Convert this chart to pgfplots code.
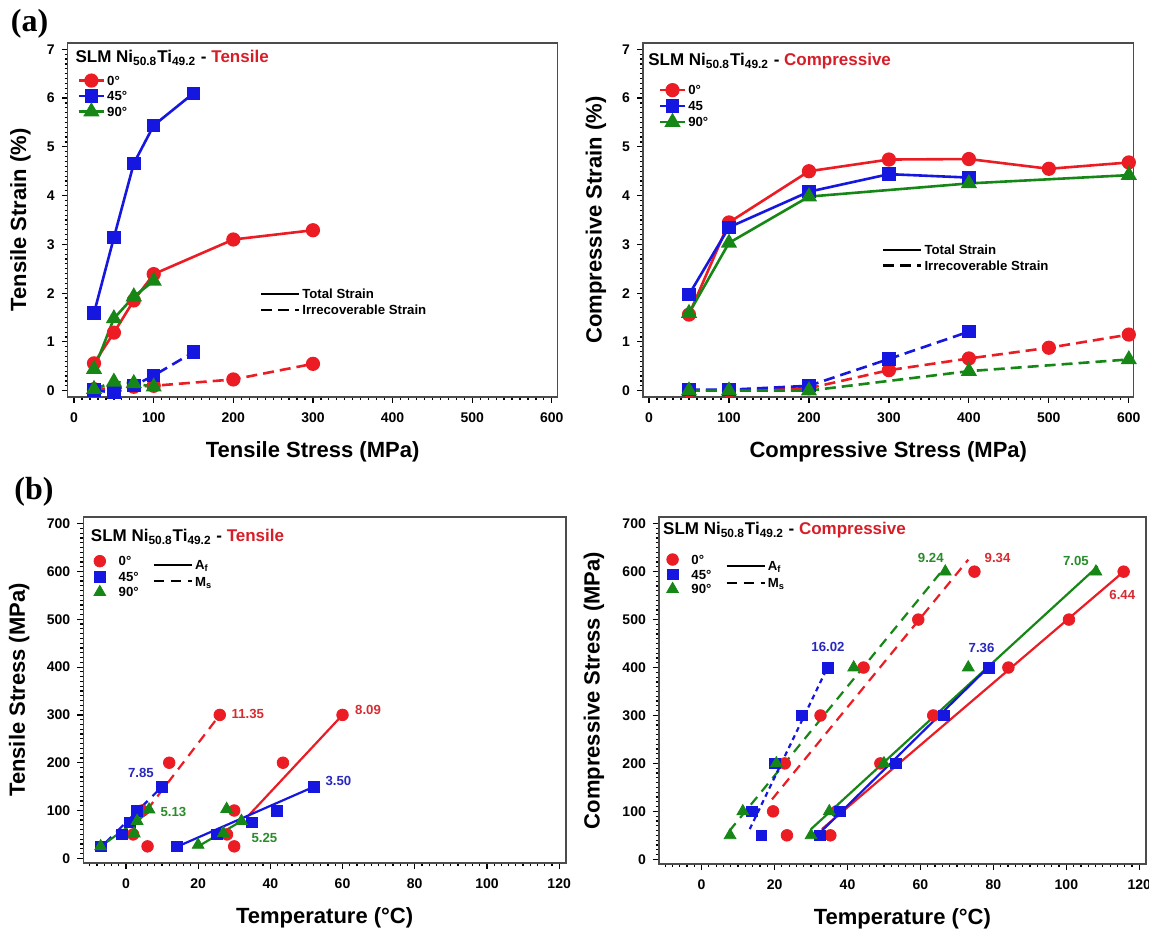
\documentclass[border=0pt]{standalone}
\usepackage{fontspec}
\setmainfont{Liberation Sans}
\newfontfamily\timesfont{Liberation Serif}
\usepackage{pgfplots}
\pgfplotsset{compat=1.18}
\definecolor{cred}{RGB}{235,28,36}
\definecolor{cblue}{RGB}{22,22,225}
\definecolor{cgreen}{RGB}{22,135,22}
\definecolor{tred}{RGB}{215,30,40}
\definecolor{ared}{RGB}{215,45,50}
\definecolor{ablue}{RGB}{40,40,190}
\definecolor{agreen}{RGB}{40,140,40}

\newcommand{\labfont}{\bfseries\fontsize{11}{13}\selectfont}
\newcommand{\tickfont}{\bfseries\fontsize{7}{8}\selectfont}
\tikzset{
 ttl/.style={anchor=base west, inner sep=0pt, font=\bfseries\fontsize{8.5}{10}\selectfont},
 ann/.style={anchor=west, inner sep=0pt, font=\bfseries\fontsize{6.6}{8}\selectfont},
}
\pgfplotsset{
 base/.style={
  scale only axis, anchor=south west, clip=false,
  axis line style={black!70, line width=0.6pt},
  tick pos=left, tick align=outside,
  major tick length=3pt, minor tick length=1.6pt,
  every tick/.style={black, line width=0.6pt},
  /pgf/number format/assume math mode=true,
  xticklabel style={font=\tickfont, yshift=-1.5pt},
  yticklabel style={font=\tickfont},
  xticklabel={\tickfont\pgfmathprintnumber{\tick}},
  yticklabel={\tickfont\pgfmathprintnumber{\tick}},
  every axis x label/.style={at={(axis description cs:0.5,0)}, anchor=center, yshift=-27.5pt, font=\labfont},
 },
 ylab/.style={every axis y label/.style={at={(axis description cs:0,0.5)}, anchor=center, xshift=-#1, rotate=90, font=\labfont}},
 mylegend/.style={legend cell align=left, legend style={draw=none, fill=none, anchor=north west,
   font=\bfseries\fontsize{6.6}{7}\selectfont, inner sep=0pt, outer sep=0pt, row sep=#1,
   nodes={inner sep=1pt, text height=4.8pt, text depth=0pt}}},
 linemark/.style={legend image code/.code={\draw[mark repeat=2,mark phase=2,##1] plot coordinates {(0pt,0pt) (6.25pt,0pt) (12.5pt,0pt)};}},
 onlymark/.style={legend image code/.code={\draw[##1] plot coordinates {(2.9pt,0pt)};},
   legend style={/tikz/every odd column/.append style={column sep=5.5pt}}},
 styleleg/.style={legend image code/.code={\draw[##1] (0pt,0pt) -- (19pt,0pt);}},
 tot/.style={line width=1.3pt},
 irr/.style={line width=1.3pt, dash pattern=on 5.5pt off 3pt},
 ci/.style={mark=*, mark size=2.9pt, mark options={solid}},
 sq/.style={mark=square*, mark size=2.7pt, mark options={solid}},
 tr/.style={mark=triangle*, mark size=3.4pt, mark options={solid}},
 fitl/.style={line width=1.1pt, forget plot},
 fitd/.style={line width=1.1pt, dash pattern=on 5pt off 3.5pt, forget plot},
 fitdot/.style={line width=1.1pt, dash pattern=on 2.5pt off 2pt, forget plot},
}

\begin{document}
\begin{tikzpicture}[x=1pt,y=1pt]
\path[use as bounding box] (0,0) rectangle (574.5,466);
\node[font=\timesfont\bfseries\fontsize{16}{18}\selectfont, inner sep=0pt] at (14.8,454.3) {(a)};
\node[font=\timesfont\bfseries\fontsize{16}{18}\selectfont, inner sep=0pt] at (17,220) {(b)};

% ---------------- (a) left
\begin{axis}[base, ylab=23.7pt, at={(33.9pt,267.5pt)}, width=244.8pt, height=177pt,
  xmin=-7.9, xmax=607, ymin=-0.13, ymax=7.13,
  xtick={0,100,...,600}, ytick={0,1,...,7},
  minor xtick={0,10,...,600}, minor ytick={0,0.1,...,7},
  xlabel={Tensile Stress (MPa)}, ylabel={Tensile Strain (\%)},
  linemark, mylegend=0.95pt, legend style={at={(axis description cs:0.02,0.913)}}]
\addplot[cred, tot, ci] coordinates {(25,0.56) (50,1.19) (75,1.85) (100,2.39) (200,3.10) (300,3.29)};
\addlegendentry{0°}
\addplot[cblue, tot, sq] coordinates {(25,1.59) (50,3.14) (75,4.66) (100,5.44) (150,6.10)};
\addlegendentry{45°}
\addplot[cgreen, tot, tr] coordinates {(25,0.44) (50,1.48) (75,1.93) (100,2.25)};
\addlegendentry{90°}
\addplot[cred, irr, ci, forget plot] coordinates {(25,0.03) (50,0.05) (75,0.08) (100,0.10) (200,0.23) (300,0.55)};
\addplot[cblue, irr, sq, forget plot] coordinates {(25,0.01) (50,-0.04) (75,0.10) (100,0.31) (150,0.79)};
\addplot[cgreen, irr, tr, forget plot] coordinates {(25,0.03) (50,0.18) (75,0.15) (100,0.08)};
\node[ttl] at (axis description cs:0.015,0.944) {SLM Ni\textsubscript{50.8}Ti\textsubscript{49.2} - \textcolor{tred}{Tensile}};
\end{axis}
\begin{axis}[scale only axis, anchor=south west, hide axis, at={(33.9pt,267.5pt)}, width=244.8pt, height=177pt,
  xmin=0, xmax=1, ymin=0, ymax=1, styleleg, mylegend=1.2pt, legend style={at={(axis description cs:0.392,0.31)}}]
\addlegendimage{black, tot}
\addlegendentry{Total Strain}
\addlegendimage{black, irr}
\addlegendentry{Irrecoverable Strain}
\end{axis}

% ---------------- (a) right
\begin{axis}[base, ylab=23.5pt, at={(321.5pt,267.5pt)}, width=245.3pt, height=177pt,
  xmin=-7.5, xmax=606, ymin=-0.13, ymax=7.13,
  xtick={0,100,...,600}, ytick={0,1,...,7},
  minor xtick={0,10,...,600}, minor ytick={0,0.1,...,7},
  xlabel={Compressive Stress (MPa)}, ylabel={Compressive Strain (\%)},
  linemark, mylegend=1.2pt, legend style={at={(axis description cs:0.032,0.886)}}]
\addplot[cred, tot, ci] coordinates {(50,1.56) (100,3.45) (200,4.50) (300,4.74) (400,4.75) (500,4.55) (600,4.68)};
\addlegendentry{0°}
\addplot[cblue, tot, sq] coordinates {(50,1.97) (100,3.35) (200,4.08) (300,4.44) (400,4.37)};
\addlegendentry{45}
\addplot[cgreen, tot, tr] coordinates {(50,1.59) (100,3.03) (200,3.98) (400,4.25) (600,4.42)};
\addlegendentry{90°}
\addplot[cred, irr, ci, forget plot] coordinates {(50,0.0) (100,0.0) (200,0.05) (300,0.42) (400,0.66) (500,0.88) (600,1.15)};
\addplot[cblue, irr, sq, forget plot] coordinates {(50,0.02) (100,0.02) (200,0.10) (300,0.65) (400,1.21)};
\addplot[cgreen, irr, tr, forget plot] coordinates {(50,0.0) (100,0.0) (200,0.0) (400,0.40) (600,0.64)};
\node[ttl] at (axis description cs:0.01,0.935) {SLM Ni\textsubscript{50.8}Ti\textsubscript{49.2} - \textcolor{tred}{Compressive}};
\end{axis}
\begin{axis}[scale only axis, anchor=south west, hide axis, at={(321.5pt,267.5pt)}, width=245.3pt, height=177pt,
  xmin=0, xmax=1, ymin=0, ymax=1, styleleg, mylegend=1pt, legend style={at={(axis description cs:0.487,0.434)}}]
\addlegendimage{black, tot}
\addlegendentry{Total Strain}
\addlegendimage{black, irr}
\addlegendentry{Irrecoverable Strain}
\end{axis}

% ---------------- (b) left
\begin{axis}[base, ylab=32pt, at={(41.65pt,34.5pt)}, width=241.35pt, height=173pt,
  xmin=-11.8, xmax=121.9, ymin=-9.8, ymax=714,
  xtick={0,20,...,120}, ytick={0,100,...,700},
  minor xtick={-10,-8,...,120}, minor ytick={0,10,...,700},
  xlabel={Temperature (°C)}, ylabel={Tensile Stress (MPa)},
  onlymark, mylegend=0.95pt, legend style={at={(axis description cs:0.022,0.892)}}]
\addplot[cred, only marks, ci] coordinates {(6,25) (2,50) (4.5,100) (12,200) (26,300)};
\addlegendentry{0°}
\addplot[cblue, only marks, sq] coordinates {(-7,25) (-1,50) (1,75) (3,100) (10,150)};
\addlegendentry{45°}
\addplot[cgreen, only marks, tr] coordinates {(-7,25) (2.3,52) (3.1,78) (6.4,102)};
\addlegendentry{90°}
\addplot[cred, only marks, ci, forget plot] coordinates {(30,25) (28,50) (30,100) (43.5,200) (60,300)};
\addplot[cblue, only marks, sq, forget plot] coordinates {(14.2,25) (25.1,50) (34.9,75) (41.8,100) (52.1,150)};
\addplot[cgreen, only marks, tr, forget plot] coordinates {(20,28) (27,53) (32,78) (27.9,103)};
\addplot[cred, fitd] coordinates {(3,73) (26,300)};
\addplot[cred, fitl] coordinates {(33.3,84) (60,300)};
\addplot[cblue, fitd] coordinates {(-6,30) (10,150)};
\addplot[cblue, fitl] coordinates {(14.2,24.4) (52.1,149.8)};
\addplot[cgreen, fitl] coordinates {(-7,25) (7,100)};
\addplot[cgreen, fitl] coordinates {(20,25) (32.5,80)};
\node[ttl] at (axis description cs:0.015,0.928) {SLM Ni\textsubscript{50.8}Ti\textsubscript{49.2} - \textcolor{tred}{Tensile}};
\node[ann, text=ared] at (axis cs:29.2,303) {11.35};
\node[ann, text=ared] at (axis cs:63.4,310) {8.09};
\node[ann, text=ablue] at (axis cs:0.5,178) {7.85};
\node[ann, text=ablue] at (axis cs:55.2,162) {3.50};
\node[ann, text=agreen] at (axis cs:9.5,96) {5.13};
\node[ann, text=agreen] at (axis cs:34.7,43) {5.25};
\end{axis}
\begin{axis}[scale only axis, anchor=south west, hide axis, at={(41.65pt,34.5pt)}, width=241.35pt, height=173pt,
  xmin=0, xmax=1, ymin=0, ymax=1, styleleg, mylegend=1.5pt, legend style={at={(axis description cs:0.144,0.882)}}]
\addlegendimage{black, line width=1.1pt}
\addlegendentry{A\textsubscript{f}}
\addlegendimage{black, line width=1.1pt, dash pattern=on 5pt off 3.5pt}
\addlegendentry{M\textsubscript{s}}
\end{axis}

% ---------------- (b) right
\begin{axis}[base, ylab=32.5pt, at={(329.45pt,34pt)}, width=243.5pt, height=173.5pt,
  xmin=-11.7, xmax=121.8, ymin=-9.8, ymax=714,
  xtick={0,20,...,120}, ytick={0,100,...,700},
  minor xtick={-10,-8,...,120}, minor ytick={0,10,...,700},
  xlabel={Temperature (°C)}, ylabel={Compressive Stress (MPa)},
  onlymark, mylegend=0.6pt, legend style={at={(axis description cs:0.016,0.897)}}]
\addplot[cred, only marks, ci] coordinates {(23.4,50) (19.6,100) (22.8,200) (32.6,300) (44.4,400) (59.4,500) (74.8,600)};
\addlegendentry{0°}
\addplot[cblue, only marks, sq] coordinates {(16.4,50) (13.7,100) (20.1,200) (27.6,300) (34.7,400)};
\addlegendentry{45°}
\addplot[cgreen, only marks, tr] coordinates {(7.8,50) (11.3,100) (20.5,200) (41.7,400) (66.8,600)};
\addlegendentry{90°}
\addplot[cred, only marks, ci, forget plot] coordinates {(35.3,50) (37,100) (49,200) (63.5,300) (84.1,400) (100.7,500) (115.7,600)};
\addplot[cblue, only marks, sq, forget plot] coordinates {(32.5,50) (37.9,100) (53.3,200) (66.5,300) (78.7,400)};
\addplot[cgreen, only marks, tr, forget plot] coordinates {(30,50) (35,100) (50,200) (73.1,400) (108.1,600)};
\addplot[cred, fitd] coordinates {(19.3,125) (73.1,625)};
\addplot[cgreen, fitd] coordinates {(7.6,59) (66.8,610)};
\addplot[cblue, fitdot] coordinates {(13.2,63) (35,408)};
\addplot[cred, fitl] coordinates {(33,63) (115.7,600)};
\addplot[cgreen, fitl] coordinates {(30,63) (108.6,611)};
\addplot[cblue, fitl] coordinates {(32.5,56) (79.2,405)};
\node[ttl] at (axis description cs:0.008,0.95) {SLM Ni\textsubscript{50.8}Ti\textsubscript{49.2} - \textcolor{tred}{Compressive}};
\node[ann, text=agreen] at (axis cs:59.2,628) {9.24};
\node[ann, text=ared] at (axis cs:77.5,628) {9.34};
\node[ann, text=agreen] at (axis cs:99,623) {7.05};
\node[ann, text=ared] at (axis cs:111.7,551) {6.44};
\node[ann, text=ablue] at (axis cs:30,442) {16.02};
\node[ann, text=ablue] at (axis cs:73.1,440) {7.36};
\end{axis}
\begin{axis}[scale only axis, anchor=south west, hide axis, at={(329.45pt,34pt)}, width=243.5pt, height=173.5pt,
  xmin=0, xmax=1, ymin=0, ymax=1, styleleg, mylegend=1.5pt, legend style={at={(axis description cs:0.137,0.878)}}]
\addlegendimage{black, line width=1.1pt}
\addlegendentry{A\textsubscript{f}}
\addlegendimage{black, line width=1.1pt, dash pattern=on 5pt off 3.5pt}
\addlegendentry{M\textsubscript{s}}
\end{axis}
\end{tikzpicture}
\end{document}
